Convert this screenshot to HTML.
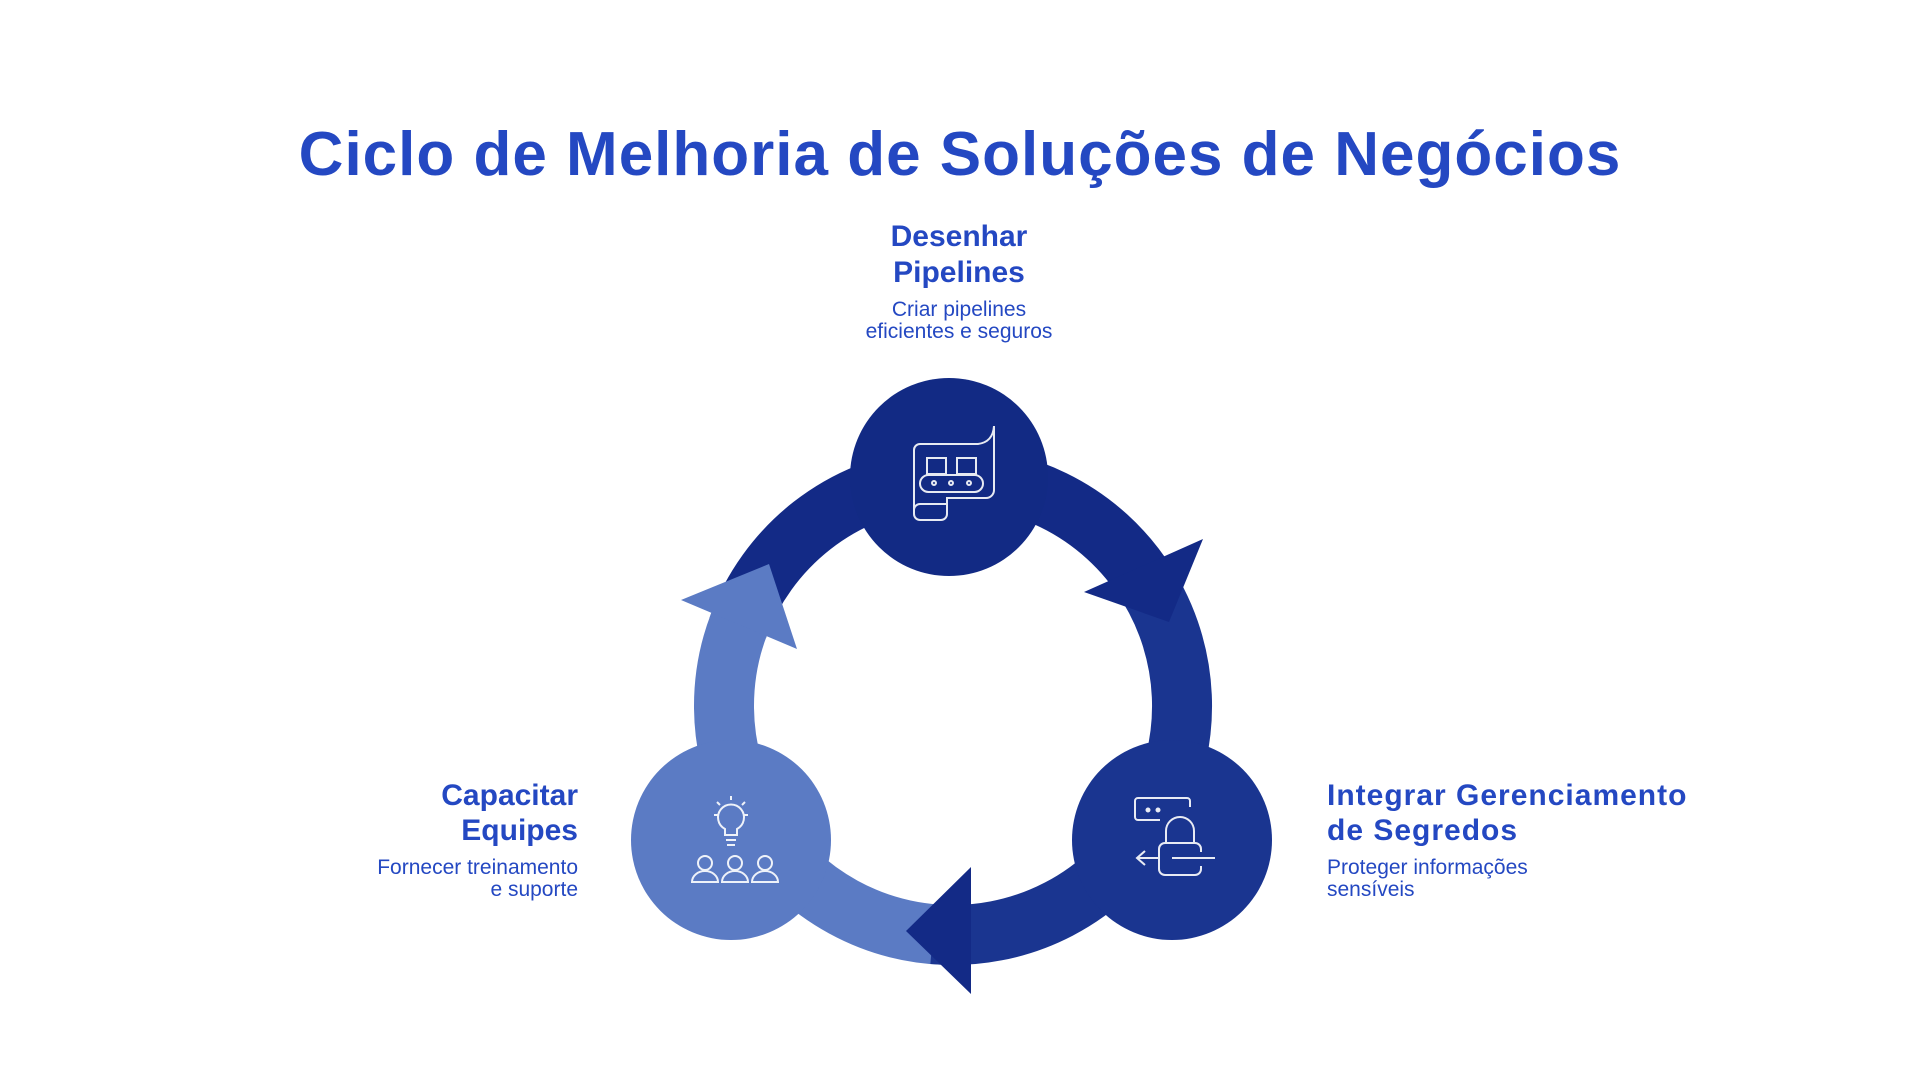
<!DOCTYPE html>
<html><head><meta charset="utf-8"><style>
html,body{margin:0;padding:0;background:#fff;}
svg{display:block}
text{font-family:"Liberation Sans",sans-serif;fill:#2448c2}
</style></head><body>
<svg width="1920" height="1080" viewBox="0 0 1920 1080" xmlns="http://www.w3.org/2000/svg">
<text x="960" y="175" text-anchor="middle" font-size="62" font-weight="bold" letter-spacing="1">Ciclo de Melhoria de Soluções de Negócios</text>

<g fill="none" stroke-width="60">
  <path d="M 737.8 627.7 A 229 229 0 0 1 1147.2 584.7" stroke="#132a86"/>
  <path d="M 945.0 934.9 A 229 229 0 0 1 747.2 605.6" stroke="#5b7bc4"/>
</g>
<polygon points="681,600 797,649 769,564" fill="#5b7bc4"/>
<path d="M 1140.6 574.6 A 229 229 0 0 1 933.0 934.1" fill="none" stroke="#1a3590" stroke-width="60"/>
<polygon points="1084,592 1203,539 1169,622" fill="#132a86"/>
<polygon points="971,867 971,994 906,931" fill="#132a86"/>

<circle cx="949" cy="477" r="99" fill="#122a84"/>
<circle cx="1172" cy="840" r="100" fill="#1a3590"/>
<circle cx="731" cy="840" r="100" fill="#5b7bc4"/>

<g fill="none" stroke="#fff" stroke-width="2" opacity="0.9">
  <path d="M914 510 V450 a6 6 0 0 1 6 -6 H978 q15 -2 16 -18 V490 a8 8 0 0 1 -8 8 H947 V514 a6 6 0 0 1 -6 6 H920 a6 6 0 0 1 -6 -6 V510 a6 6 0 0 1 6 -6 H947"/>
  <rect x="927" y="458" width="19" height="16"/>
  <rect x="957" y="458" width="19" height="16"/>
  <rect x="920" y="475" width="63" height="17" rx="8.5"/>
  <circle cx="934" cy="483" r="2"/><circle cx="951" cy="483" r="2"/><circle cx="969" cy="483" r="2"/>
</g>
<g fill="none" stroke="#fff" stroke-width="2" opacity="0.9">
  <path d="M1190 807 V801 a3 3 0 0 0 -3 -3 H1138 a3 3 0 0 0 -3 3 V817 a3 3 0 0 0 3 3 H1160"/>
  <circle cx="1148" cy="810" r="1.5" fill="#fff"/><circle cx="1158" cy="810" r="1.5" fill="#fff"/>
  <path d="M1166 843 V831 a14 14 0 0 1 28 0 V843"/>
  <path d="M1201 852 V849 a6 6 0 0 0 -6 -6 H1165 a6 6 0 0 0 -6 6 V869 a6 6 0 0 0 6 6 H1195 a6 6 0 0 0 6 -6 V866"/>
  <path d="M1172 858 H1215"/>
  <path d="M1159 858 H1137 M1145 851 L1137 858 L1145 865"/>
</g>
<g fill="none" stroke="#fff" stroke-width="2" opacity="0.9">
  <path d="M725 829 a13 13 0 1 1 12 0 V835 H725 Z"/>
  <path d="M726 840 H736 M727 845 H735"/>
  <path d="M731 796 V800 M717 802 L720 805 M745 802 L742 805 M714 815 H718 M744 815 H748"/>
  <circle cx="705" cy="863" r="7"/><path d="M692 882 a13 11 0 0 1 26 0 Z"/>
  <circle cx="735" cy="863" r="7"/><path d="M722 882 a13 11 0 0 1 26 0 Z"/>
  <circle cx="765" cy="863" r="7"/><path d="M752 882 a13 11 0 0 1 26 0 Z"/>
</g>

<g font-weight="bold" font-size="30">
<text x="959" y="246" text-anchor="middle">Desenhar</text>
<text x="959" y="282" text-anchor="middle">Pipelines</text>
<text x="578" y="805" text-anchor="end">Capacitar</text>
<text x="578" y="840" text-anchor="end">Equipes</text>
<text x="1327" y="805" letter-spacing="1">Integrar Gerenciamento</text>
<text x="1327" y="840" letter-spacing="1">de Segredos</text>
</g>
<g font-size="21">
<text x="959" y="316" text-anchor="middle">Criar pipelines</text>
<text x="959" y="338" text-anchor="middle">eficientes e seguros</text>
<text x="578" y="874" text-anchor="end">Fornecer treinamento</text>
<text x="578" y="896" text-anchor="end">e suporte</text>
<text x="1327" y="874">Proteger informações</text>
<text x="1327" y="896">sensíveis</text>
</g>
</svg>
</body></html>
